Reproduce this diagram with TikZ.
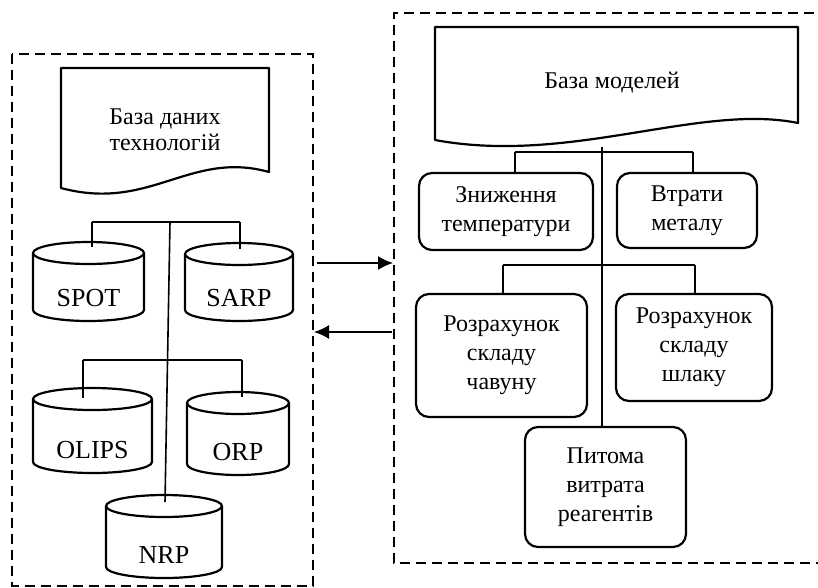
\documentclass[tikz,border=0pt]{standalone}
\usepackage{fontspec}
\setmainfont{Liberation Serif}
\usetikzlibrary{arrows.meta}
\tikzset{
  frame/.style={line width=2pt, dash pattern=on 10pt off 6pt},
  shp/.style={line width=2.2pt, line join=round},
  tree/.style={line width=1.6pt},
  lbl/.style={font=\fontsize{24}{29}\selectfont, align=center, inner sep=0pt},
  cyllbl/.style={font=\fontsize{26}{29}\selectfont, align=center, inner sep=0pt},
  rbox/.style={draw, line width=2.2pt, rounded corners=13pt, lbl},
  arr/.style={line width=1.6pt, -{Latex[length=15pt,width=14pt]}}
}
\newcommand{\dbcyl}[6]{%
  \pgfmathsetmacro\cylcx{(#2+#3)/2}%
  \pgfmathsetmacro\cylrx{(#3-#2)/2}%
  \draw[shp,fill=white] (#2,#4+11) -- (#2,#5-11) arc[start angle=180,end angle=360,x radius=\cylrx pt,y radius=11pt] -- (#3,#4+11);
  \draw[shp] (\cylcx,#4+11) ellipse [x radius=\cylrx pt, y radius=11pt];
  \node[cyllbl] (#1) at (\cylcx,#5-23) {#6};}
\begin{document}
\begin{tikzpicture}[x=1pt,y=-1pt]
\useasboundingbox (0,0) rectangle (818,587);
\clip (0,0) rectangle (818,587);
\fill[white] (0,0) rectangle (818,587);
% dashed frames
\draw[frame] (12,54) rectangle (313,585.5);
\draw[frame] (830,13) -- (394,13) -- (394,563) -- (830,563);
% left document
\draw[shp] (61,68) -- (269,68) -- (269,172) .. controls (190,150) and (150,212) .. (61,188) -- cycle;
\node[lbl, font=\fontsize{24}{26}\selectfont] (ldoc) at (165,130) {База даних\\технологій};
% left trees
\coordinate (l1a) at (92,222); \coordinate (l1b) at (240,222); \coordinate (l1c) at (170,222);
\coordinate (l2a) at (83,360); \coordinate (l2b) at (242,360);
\draw[tree] (l1a) -- (l1b);
\draw[tree] (l2a) -- (l2b);
% cylinders
\dbcyl{spot}{33}{144}{242}{321}{SPOT}
\dbcyl{sarp}{185}{293}{243}{321}{SARP}
\dbcyl{olips}{33}{152}{388}{473}{OLIPS}
\dbcyl{orp}{187}{289}{392}{475}{ORP}
\dbcyl{nrp}{106}{222}{495}{578}{NRP}
\draw[tree] (l1c) -- (165,502);
\draw[tree] (l1a) -- (92,247);
\draw[tree] (l1b) -- (240,249);
\draw[tree] (l2a) -- (83,398);
\draw[tree] (l2b) -- (242,397);
% arrows
\coordinate (a1s) at (317,263); \coordinate (a1e) at (393,263);
\coordinate (a2s) at (392,332); \coordinate (a2e) at (314,332);
\draw[arr] (a1s) -- (a1e);
\draw[arr] (a2s) -- (a2e);
% right document
\draw[shp] (435,27) -- (798,27) -- (798,123) .. controls (700,103) and (570,165) .. (435,140) -- cycle;
\node[lbl] (rdoc) at (612,83) {База моделей};
% right boxes
\node[rbox, minimum width=174pt, minimum height=77pt] (zn) at (506,211.5) {Зниження\\температури};
\node[rbox, minimum width=140pt, minimum height=75pt] (vt) at (687,210.5) {Втрати\\металу};
\node[rbox, minimum width=171pt, minimum height=123pt] (rc) at (501.5,355.5) {Розрахунок\\складу\\чавуну};
\node[rbox, minimum width=156pt, minimum height=107pt] (rs) at (694,347.5) {Розрахунок\\складу\\шлаку};
\node[rbox, minimum width=161pt, minimum height=120pt] (pv) at (605.5,487) {Питома\\витрата\\реагентів};
% right trees
\coordinate (r0) at (602,147);
\coordinate (r1a) at (515,152); \coordinate (r1b) at (693,152);
\coordinate (r2a) at (503,265); \coordinate (r2b) at (695,265);
\draw[tree] (r0) -- (pv.north -| r0);
\draw[tree] (r1a) -- (r1b);
\draw[tree] (r1a) -- (r1a |- zn.north);
\draw[tree] (r1b) -- (r1b |- vt.north);
\draw[tree] (r2a) -- (r2b);
\draw[tree] (r2a) -- (r2a |- rc.north);
\draw[tree] (r2b) -- (r2b |- rs.north);
\end{tikzpicture}
\end{document}
